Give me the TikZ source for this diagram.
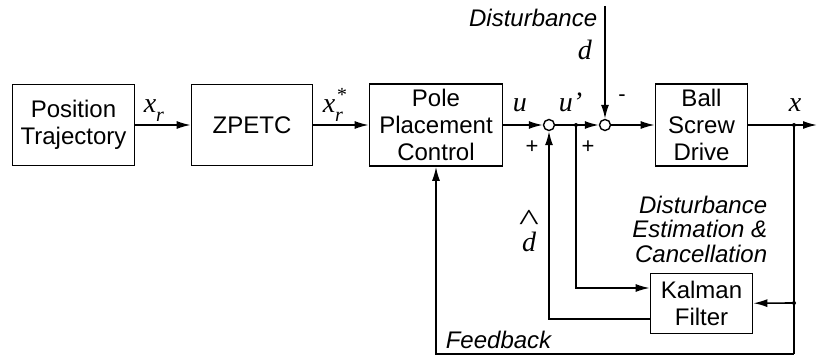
\documentclass[tikz,border=0pt]{standalone}
\usepackage{fontspec}
\setmainfont{Liberation Sans}
\newfontfamily\tim{Liberation Serif}
\usetikzlibrary{arrows.meta}
\begin{document}
\begin{tikzpicture}[x=1pt,y=-1pt,line width=1.6pt,
  blk/.style={draw,rectangle,align=center,inner sep=0pt,font=\fontsize{24}{27}\selectfont},
  arr/.style={-{Latex[length=14pt,width=8pt]}},
  sumc/.style={circle,draw,fill=white,minimum size=11pt,inner sep=0pt,line width=1.4pt},
  lbl/.style={inner sep=0pt,font=\fontsize{28}{30}\selectfont\tim\itshape},
  itl/.style={inner sep=0pt,font=\fontsize{24}{24}\selectfont\itshape},
  sgn/.style={inner sep=0pt,font=\fontsize{22}{22}\selectfont}
]
\useasboundingbox (0,0) rectangle (817,358);
% blocks
\node[blk,minimum width=122pt,minimum height=81pt] (pos) at (73.5,125) {Position\\Trajectory};
\node[blk,minimum width=121pt,minimum height=81pt] (zp) at (252,125) {ZPETC};
\node[blk,minimum width=133pt,minimum height=82pt] (pole) at (436,125) {Pole\\Placement\\Control};
\node[blk,minimum width=92pt,minimum height=82pt] (ball) at (701.5,125) {Ball\\Screw\\Drive};
\node[blk,minimum width=102pt,minimum height=60pt] (kal) at (701.5,303.5) {Kalman\\Filter};
% junctions
\node[sumc] (s1) at (549,125) {};
\node[sumc] (s2) at (605,125) {};
\coordinate (bu) at (576,125);
\coordinate (bx) at (794,125);
\coordinate (bk) at (794,303);
\coordinate (dtop) at (605,6);
\coordinate (outend) at (817,125);
\coordinate (fbr) at (794,354);
% connectors
\draw[arr] (pos) -- (zp);
\draw[arr] (zp) -- (pole);
\draw[arr] (pole) -- (s1);
\draw (s1) -- (bu);
\draw[arr] (bu) -- (s2);
\draw[arr] (s2) -- (ball);
\draw[arr] (ball) -- (outend);
\draw[arr] (dtop) -- (s2);
\draw[arr] (bu) |- ([yshift=15.5pt]kal.west);
\draw[arr] ([yshift=-15.5pt]kal.west) -| (s1);
\draw[arr] (bk) -- (kal);
\draw (bx) -- (bk) -- (fbr);
\draw[arr] (fbr) -| (pole);
\foreach \p in {bu,bx,bk} \fill (\p) circle (2pt);
% labels
\node[lbl,anchor=base west] at (143,113) {x\raisebox{-9pt}{\fontsize{20}{20}\selectfont r}};
\node[lbl,anchor=base west] at (322,113) {x\rlap{\raisebox{11pt}{\fontsize{20}{20}\selectfont\kern1pt*}}\raisebox{-9pt}{\fontsize{20}{20}\selectfont r}};
\node[lbl,anchor=base west] at (512,112) {u};
\node[lbl,anchor=base west] at (558,112) {u’};
\node[lbl,anchor=base west] at (788,112) {x};
\node[lbl,anchor=base west] at (577,60) {d};
\node[lbl,align=center,font=\fontsize{28}{21}\selectfont\tim\itshape,anchor=south] at (529,253) {\scalebox{1.5}[1.1]{\upshape\textasciicircum}\\d};
\node[sgn] at (622,98) {-};
\node[sgn] at (532,147) {+};
\node[sgn] at (588,147) {+};
\node[itl,anchor=base east] at (598,27) {Disturbance};
\node[itl,anchor=base west] at (445,348) {Feedback};
\node[itl,anchor=base east] at (768,214) {Disturbance};
\node[itl,anchor=base east] at (768,238) {Estimation \&};
\node[itl,anchor=base east] at (768,262) {Cancellation};
\end{tikzpicture}
\end{document}
